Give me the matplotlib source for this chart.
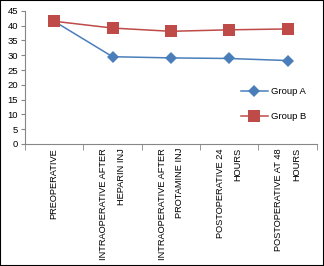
import matplotlib
matplotlib.use("Agg")
import matplotlib.pyplot as plt
from matplotlib.patches import Rectangle

plt.rcParams['font.family'] = ['Liberation Sans', 'DejaVu Sans']

categories = ["PREOPERATIVE",
              "INTRAOPERATIVE AFTER\nHEPARIN INJ",
              "INTRAOPERATIVE AFTER\nPROTAMINE INJ",
              "POSTOPERATIVE 24\nHOURS",
              "POSTOPERATIVE AT 48\nHOURS"]
group_a = [41.5, 29.5, 29.1, 28.9, 28.2]
group_b = [41.5, 39.2, 38.1, 38.6, 38.9]
yticks = list(range(0, 50, 5))

fig = plt.figure(figsize=(3.24, 2.66), dpi=100)
ax = fig.add_axes([0.077, 0.459, 0.901, 0.5])

x = list(range(len(categories)))
ax.plot(x, group_a, color='#4A7EBB', marker='D', markersize=6, lw=1.1,
        markeredgewidth=0, label='Group A')
ax.plot(x, group_b, color='#BE4B48', marker='s', markersize=8, lw=1.1,
        markeredgewidth=0, label='Group B')

ax.set_xlim(-0.5, len(categories) - 0.5)
ax.set_ylim(0, 45)
ax.set_yticks(yticks)
ax.set_xticks(x)
ax.set_xticklabels(categories, rotation=90, va='top', ha='center',
                   multialignment='right', fontsize=6.7, linespacing=2.25)
ax.set_xticks([i + 0.5 for i in range(-1, len(categories))], minor=True)
ax.tick_params(axis='x', which='major', length=0, pad=3)
ax.tick_params(axis='x', which='minor', length=4, color='#868686', direction='out')
ax.tick_params(axis='y', length=3, color='#868686', labelsize=6.8, pad=2)

for s in ['top', 'right']:
    ax.spines[s].set_visible(False)
for s in ['left', 'bottom']:
    ax.spines[s].set_color('#868686')
    ax.spines[s].set_linewidth(0.8)

ax.legend(loc='center left', bbox_to_anchor=(0.71, 0.3), frameon=False,
          fontsize=6.8, labelspacing=1.7, handlelength=2.9, handletextpad=0.3)

fig.patches.append(Rectangle((0, 0), 1, 1, transform=fig.transFigure,
                             fill=False, edgecolor='black', lw=1.5))

fig.savefig('out.png', dpi=100)
